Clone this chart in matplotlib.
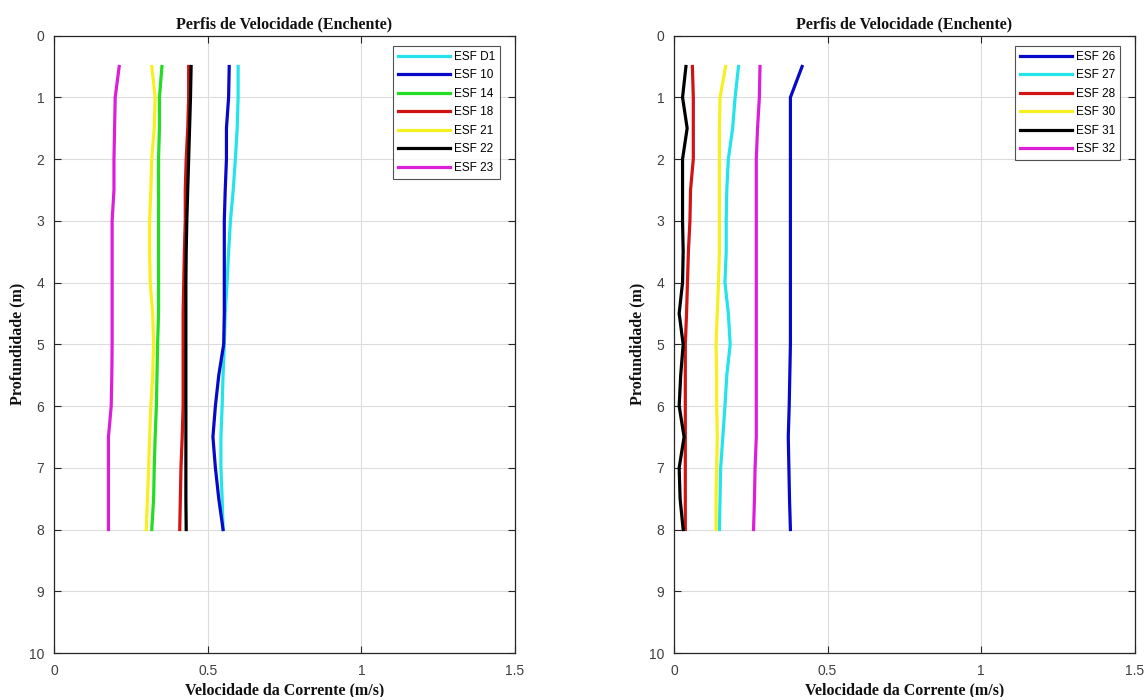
"""Velocity profiles (flood tide) - two panels, MATLAB-style look."""
import matplotlib
matplotlib.use("Agg")
import matplotlib.pyplot as plt

# depth (m) of each measurement
depth = [0.5, 1.0, 1.5, 2.0, 2.5, 3.0, 3.5, 4.0, 4.5, 5.0, 5.5, 6.0, 6.5, 7.0, 7.5, 8.0]

# left panel
left_labels = ["ESF D1", "ESF 10", "ESF 14", "ESF 18", "ESF 21", "ESF 22", "ESF 23"]
esf_d1 = [0.599, 0.599, 0.596, 0.590, 0.583, 0.574, 0.568, 0.563, 0.557, 0.554, 0.550, 0.547, 0.543, 0.543, 0.547, 0.550]
esf_10 = [0.570, 0.568, 0.561, 0.561, 0.557, 0.554, 0.554, 0.554, 0.554, 0.552, 0.536, 0.525, 0.517, 0.525, 0.536, 0.550]
esf_14 = [0.351, 0.343, 0.343, 0.340, 0.340, 0.340, 0.340, 0.340, 0.340, 0.337, 0.335, 0.333, 0.329, 0.326, 0.324, 0.318]
esf_18 = [0.438, 0.438, 0.435, 0.430, 0.427, 0.427, 0.424, 0.422, 0.420, 0.420, 0.420, 0.420, 0.417, 0.413, 0.411, 0.409]
esf_21 = [0.318, 0.329, 0.326, 0.318, 0.315, 0.311, 0.311, 0.313, 0.321, 0.324, 0.321, 0.315, 0.311, 0.308, 0.304, 0.300]
esf_22 = [0.446, 0.444, 0.441, 0.438, 0.435, 0.432, 0.430, 0.429, 0.429, 0.429, 0.429, 0.429, 0.429, 0.429, 0.429, 0.430]
esf_23 = [0.212, 0.199, 0.197, 0.195, 0.195, 0.189, 0.189, 0.189, 0.189, 0.189, 0.188, 0.186, 0.177, 0.177, 0.177, 0.177]

# right panel
right_labels = ["ESF 26", "ESF 27", "ESF 28", "ESF 30", "ESF 31", "ESF 32"]
esf_26 = [0.417, 0.379, 0.379, 0.379, 0.379, 0.379, 0.379, 0.379, 0.379, 0.379, 0.377, 0.375, 0.372, 0.374, 0.376, 0.379]
esf_27 = [0.210, 0.199, 0.191, 0.177, 0.172, 0.170, 0.170, 0.166, 0.177, 0.183, 0.172, 0.166, 0.159, 0.152, 0.150, 0.148]
esf_28 = [0.060, 0.063, 0.063, 0.063, 0.054, 0.052, 0.047, 0.044, 0.041, 0.037, 0.037, 0.037, 0.037, 0.037, 0.037, 0.037]
esf_30 = [0.168, 0.150, 0.148, 0.148, 0.148, 0.148, 0.148, 0.145, 0.141, 0.137, 0.139, 0.139, 0.141, 0.139, 0.137, 0.137]
esf_31 = [0.039, 0.028, 0.043, 0.028, 0.028, 0.028, 0.030, 0.028, 0.017, 0.030, 0.022, 0.017, 0.033, 0.017, 0.020, 0.030]
esf_32 = [0.280, 0.278, 0.272, 0.268, 0.268, 0.268, 0.268, 0.268, 0.268, 0.268, 0.268, 0.268, 0.268, 0.264, 0.262, 0.259]

x_ticks = [0, 0.5, 1, 1.5]
x_ticklabels = ["0", "0.5", "1", "1.5"]
y_ticks = list(range(0, 11))

CYAN, BLUE, GREEN, RED = "#22e4ea", "#0808c8", "#22dd22", "#d01414"
YELLOW, BLACK, MAGENTA = "#f6f020", "#000000", "#dd1ed8"
AX_COL = "#262626"
GRID_COL = "#dcdcdc"
SERIF = ["Liberation Serif", "DejaVu Serif"]
SANS = ["Liberation Sans", "DejaVu Sans"]

left_series = [esf_d1, esf_10, esf_14, esf_18, esf_21, esf_22, esf_23]
left_colors = [CYAN, BLUE, GREEN, RED, YELLOW, BLACK, MAGENTA]
right_series = [esf_26, esf_27, esf_28, esf_30, esf_31, esf_32]
right_colors = [BLUE, CYAN, RED, YELLOW, BLACK, MAGENTA]

fig = plt.figure(figsize=(11.45, 6.97), dpi=100, facecolor="white")


def panel(rect, series, colors, labels):
    ax = fig.add_axes(rect)
    for vals, c, lbl in zip(series, colors, labels):
        ax.plot(vals, depth, color=c, lw=2.3, label=lbl)
    ax.set_xlim(0, 1.5)
    ax.set_ylim(10, 0)
    ax.set_xticks(x_ticks)
    ax.set_xticklabels(x_ticklabels)
    ax.set_yticks(y_ticks)
    ax.grid(True, color=GRID_COL, lw=0.8)
    ax.set_axisbelow(True)
    ax.tick_params(direction="in", length=5, width=0.8, top=True, right=True,
                   colors=AX_COL, labelsize=10)
    ax.tick_params(axis="x", pad=8)
    ax.tick_params(axis="y", pad=7)
    for lab in ax.get_xticklabels() + ax.get_yticklabels():
        lab.set_family(SANS)
        lab.set_color("#404040")
    for s in ax.spines.values():
        s.set_color(AX_COL)
        s.set_linewidth(0.9)
    ax.set_title("Perfis de Velocidade (Enchente)", family=SERIF, fontweight="bold",
                 fontsize=11.5, pad=5, color="#111111")
    ax.set_xlabel("Velocidade da Corrente (m/s)", family=SERIF, fontweight="bold",
                  fontsize=11.5, labelpad=3, color="#111111")
    ax.set_ylabel("Profundidade (m)", family=SERIF, fontweight="bold",
                  fontsize=11.5, color="#111111")
    ax.yaxis.set_label_coords(-0.062, 0.5)
    leg = ax.legend(loc="upper right", bbox_to_anchor=(0.9675, 0.983),
                    prop={"family": SANS, "size": 8.5},
                    frameon=True, fancybox=False, edgecolor=AX_COL,
                    handlelength=4.4, handletextpad=0.35, labelspacing=0.55,
                    borderpad=0.4, borderaxespad=0.0)
    leg.get_frame().set_linewidth(0.8)
    return ax


panel([0.0472, 0.0631, 0.4026, 0.8858], left_series, left_colors, left_labels)
panel([0.5886, 0.0631, 0.4026, 0.8858], right_series, right_colors, right_labels)

fig.savefig("out.png", dpi=100, facecolor="white")
